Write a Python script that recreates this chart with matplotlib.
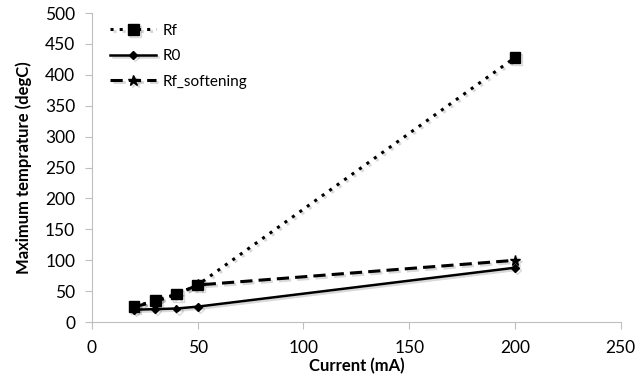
import matplotlib
matplotlib.use("Agg")
import matplotlib.pyplot as plt
import matplotlib.patheffects as pe

# peak temperature vs drive current for the three resistance models
current = [20, 30, 40, 50, 200]
rf = [25, 35, 45, 60, 428]
r0 = [20, 21, 22, 25, 88]
rf_soft = [25, 33, 45, 60, 100]

plt.rcParams["font.family"] = ["Lato", "DejaVu Sans"]

fig = plt.figure(figsize=(6.38, 3.83), dpi=100)
ax = fig.add_axes([0.144, 0.159, 0.829, 0.807])

shadow = [pe.SimpleLineShadow(offset=(1.5, -1.5), alpha=0.15), pe.Normal()]

ax.plot(current, rf, color="black", linestyle=(0, (1, 2)), linewidth=2.2,
        marker="s", markersize=7.5, label="Rf", zorder=3, path_effects=shadow)
ax.plot(current, r0, color="black", linestyle="-", linewidth=1.8,
        marker="D", markersize=4, label="R0", zorder=2, path_effects=shadow)
ax.plot(current, rf_soft, color="black", linestyle=(0, (4, 2)), linewidth=2.2,
        marker="*", markersize=8, label="Rf_softening", zorder=2, path_effects=shadow)

ax.set_xlim(0, 250)
ax.set_ylim(0, 500)
ax.set_xticks(range(0, 251, 50))
ax.set_yticks(range(0, 501, 50))

for side in ("top", "right"):
    ax.spines[side].set_visible(False)
for side in ("left", "bottom"):
    ax.spines[side].set_color("#BFBFBF")
ax.tick_params(colors="#BFBFBF", labelcolor="black", labelsize=12.5, length=5)
ax.tick_params(axis="x", pad=8)
ax.tick_params(axis="y", pad=7)

ax.set_xlabel("Current (mA)", fontsize=12, fontweight="bold", labelpad=1)
ax.set_ylabel("Maximum temprature (degC)", fontsize=12, fontweight="bold", labelpad=9)

ax.legend(loc="upper left", frameon=False, fontsize=11, handlelength=3,
          labelspacing=0.75, handletextpad=0.4,
          borderaxespad=0.3, bbox_to_anchor=(0.015, 1.0))

fig.savefig("out.png", dpi=100)
